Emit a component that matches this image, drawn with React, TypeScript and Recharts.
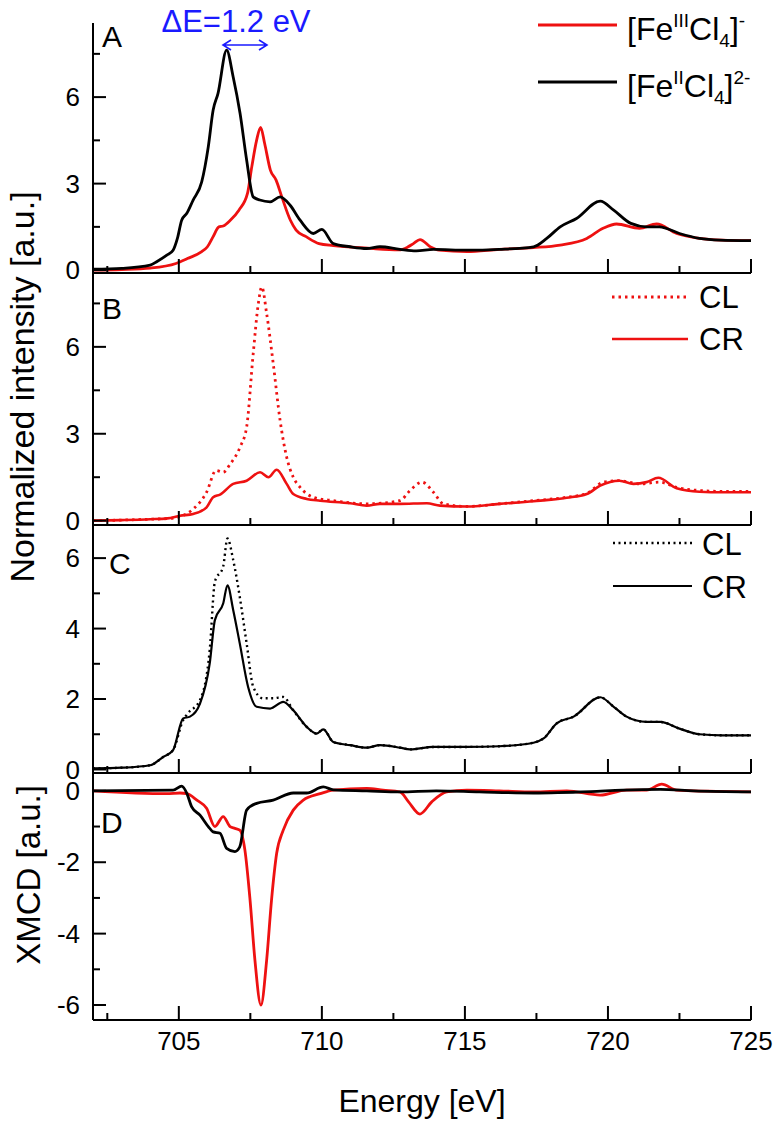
import React from "react";
import { LineChart, Line, XAxis, YAxis } from "recharts";

// energies (eV) and normalized intensities
const aFe3E = [702, 703, 704, 704.9, 705.3, 705.8, 706.0, 706.2, 706.4, 706.55, 706.8, 707.1, 707.4, 707.55, 707.72, 707.86, 708.0, 708.2, 708.4, 708.6, 708.9, 709.1, 709.45, 709.9, 710.4, 711.6, 712.7, 713.0, 713.2, 713.43, 713.8, 714.1, 715.07, 716.2, 717.4, 718.33, 719.26, 719.83, 720.3, 721.1, 721.7, 722.4, 723.2, 724, 725];
const aFe3V = [0.0, 0.02, 0.07, 0.23, 0.4, 0.64, 0.81, 1.16, 1.5, 1.53, 1.73, 2.08, 2.66, 3.58, 4.51, 4.95, 4.39, 3.47, 3.12, 2.54, 1.73, 1.39, 1.16, 0.92, 0.85, 0.76, 0.7, 0.8, 0.92, 1.06, 0.8, 0.69, 0.64, 0.72, 0.78, 0.87, 1.1, 1.45, 1.6, 1.45, 1.6, 1.27, 1.1, 1.04, 1.02];

const aFe2E = [702, 703, 704, 704.24, 704.58, 704.8, 704.95, 705.1, 705.28, 705.5, 705.8, 706.03, 706.2, 706.37, 706.67, 706.9, 707.14, 707.37, 707.6, 707.83, 708.19, 708.54, 708.89, 709.24, 709.7, 710.0, 710.4, 710.99, 711.57, 712.03, 712.73, 713.3, 713.9, 715.07, 716.2, 717.4, 717.86, 718.33, 718.9, 719.73, 720.2, 720.8, 721.35, 721.8, 722.5, 723.2, 723.9, 725];
const aFe2V = [0.03, 0.06, 0.17, 0.3, 0.52, 0.69, 1.1, 1.73, 1.97, 2.43, 3.06, 4.28, 5.55, 6.13, 7.63, 6.7, 5.44, 3.82, 2.54, 2.43, 2.37, 2.54, 2.25, 1.73, 1.27, 1.41, 0.92, 0.81, 0.75, 0.81, 0.72, 0.67, 0.72, 0.69, 0.72, 0.81, 1.1, 1.5, 1.79, 2.39, 2.08, 1.62, 1.5, 1.5, 1.27, 1.1, 1.04, 1.02];

const bClE = [702, 703, 704, 704.58, 705.04, 705.5, 705.97, 706.3, 706.55, 706.8, 707.14, 707.37, 707.6, 707.78, 707.9, 708.07, 708.3, 708.54, 708.77, 709.0, 709.24, 709.7, 710.4, 711.57, 712.73, 713.08, 713.5, 713.9, 714.25, 715.07, 716.2, 717.4, 718.56, 719.26, 719.84, 720.4, 721.1, 721.8, 722.4, 723.2, 724, 725];
const bClV = [0.0, 0.02, 0.05, 0.07, 0.14, 0.4, 0.98, 1.73, 1.67, 1.96, 2.54, 3.23, 5.77, 7.5, 8.07, 7.15, 5.42, 3.46, 2.19, 1.5, 1.15, 0.81, 0.69, 0.58, 0.69, 1.04, 1.33, 0.98, 0.58, 0.49, 0.58, 0.69, 0.81, 0.94, 1.33, 1.38, 1.27, 1.33, 1.15, 1.04, 1.01, 1.01];

const bCrE = [702, 703, 704, 704.6, 705.04, 705.5, 705.97, 706.2, 706.44, 706.9, 707.37, 707.84, 708.13, 708.42, 708.77, 709.0, 709.47, 709.94, 710.99, 711.57, 712.03, 712.73, 713.67, 714.13, 715.07, 716.2, 717.4, 718.56, 719.26, 719.73, 720.4, 720.89, 721.35, 721.76, 722.4, 723.2, 724, 725];
const bCrV = [0.0, 0.02, 0.05, 0.08, 0.17, 0.23, 0.46, 0.81, 0.9, 1.27, 1.38, 1.67, 1.5, 1.76, 1.27, 0.92, 0.75, 0.69, 0.6, 0.52, 0.58, 0.58, 0.6, 0.52, 0.49, 0.58, 0.67, 0.79, 0.92, 1.21, 1.38, 1.27, 1.33, 1.48, 1.12, 1.0, 0.98, 0.98];

const cClE = [702, 703, 704, 704.46, 704.8, 705.15, 705.3, 705.74, 706.08, 706.26, 706.55, 706.7, 706.9, 707.13, 707.37, 707.6, 707.94, 708.3, 708.65, 709.0, 709.47, 709.82, 710.05, 710.4, 710.99, 711.57, 712.03, 712.73, 713.08, 713.9, 715.07, 716.2, 717.4, 717.75, 718.21, 718.8, 719.73, 720.2, 720.65, 721.35, 721.83, 722.5, 723.2, 724, 725];
const cClV = [0.03, 0.05, 0.12, 0.36, 0.55, 1.4, 1.58, 1.97, 3.39, 5.33, 5.76, 6.56, 5.95, 4.9, 3.58, 2.35, 2.02, 2.02, 2.06, 1.68, 1.21, 1.02, 1.14, 0.78, 0.69, 0.62, 0.69, 0.62, 0.57, 0.64, 0.64, 0.66, 0.76, 0.88, 1.31, 1.5, 2.05, 1.78, 1.5, 1.35, 1.35, 1.16, 1.0, 0.97, 0.97];

const cCrE = [702, 703, 704, 704.46, 704.8, 705.15, 705.39, 705.74, 706.08, 706.26, 706.55, 706.7, 706.9, 707.13, 707.42, 707.72, 708.19, 708.65, 709.0, 709.47, 709.82, 710.05, 710.4, 710.99, 711.57, 712.03, 712.73, 713.08, 713.9, 715.07, 716.2, 717.4, 717.75, 718.21, 718.8, 719.73, 720.2, 720.65, 721.35, 721.83, 722.5, 723.2, 724, 725];
const cCrV = [0.03, 0.05, 0.12, 0.36, 0.55, 1.45, 1.5, 1.87, 3.01, 4.24, 4.71, 5.23, 4.53, 3.58, 2.35, 1.78, 1.73, 1.92, 1.68, 1.21, 1.02, 1.14, 0.78, 0.69, 0.62, 0.69, 0.62, 0.57, 0.64, 0.64, 0.66, 0.76, 0.88, 1.31, 1.5, 2.05, 1.78, 1.5, 1.35, 1.35, 1.16, 1.0, 0.97, 0.97];

// XMCD difference spectra
const dFe3E = [702, 704.58, 705.04, 705.28, 705.63, 705.97, 706.26, 706.55, 706.79, 706.96, 707.13, 707.31, 707.49, 707.66, 707.87, 708.07, 708.24, 708.42, 708.65, 709.0, 709.35, 709.94, 710.4, 711.57, 712.14, 712.73, 713.03, 713.43, 713.84, 714.36, 715.07, 716.2, 717.4, 718.56, 719.73, 720.65, 721.35, 721.88, 722.4, 723.5, 725];
const dFe3V = [0.0, -0.08, -0.06, -0.08, -0.26, -0.49, -1.0, -0.72, -1.0, -1.05, -1.1, -1.66, -3.06, -4.74, -6.0, -4.74, -3.06, -1.75, -1.1, -0.54, -0.26, -0.08, 0.02, 0.07, 0.02, -0.03, -0.31, -0.65, -0.31, -0.03, 0.02, 0.0, -0.03, 0.0, -0.12, 0.02, 0.02, 0.19, 0.02, -0.01, -0.03];

const dFe2E = [702, 704.8, 705.1, 705.28, 705.45, 705.74, 706.03, 706.2, 706.44, 706.67, 706.96, 707.13, 707.37, 707.72, 708.3, 709.0, 709.47, 710.05, 710.4, 711.57, 712.73, 714, 715.5, 717.4, 719.4, 720.5, 721.83, 723, 725];
const dFe2V = [0.0, 0.02, 0.13, -0.07, -0.45, -0.68, -1.0, -1.15, -1.19, -1.61, -1.7, -1.57, -0.54, -0.35, -0.26, -0.06, -0.06, 0.11, 0.03, 0.0, -0.03, 0.0, -0.03, -0.06, -0.02, 0.02, 0.04, 0.0, -0.03];

const xTicks = [702.5, 705, 707.5, 710, 712.5, 715, 717.5, 720, 722.5, 725];
const xLabeled = [705, 710, 715, 720, 725];

const RED = "#ee1111";
const FONT = "'Liberation Sans', Arial, sans-serif";

const toPts = (es: number[], vs: number[]) => es.map((e, i) => ({ e, v: vs[i] }));

const XTick = (props: any) => {
  const { x, y, payload, showLabels } = props;
  const major = xLabeled.includes(payload.value);
  return (
    <g>
      <line x1={x} x2={x} y1={y} y2={y - (major ? 14 : 7)} stroke="#000" strokeWidth={2} />
      {showLabels && major && (
        <text x={x} y={y + 30} textAnchor="middle" fontSize={26} fill="#000" fontFamily={FONT}>
          {payload.value}
        </text>
      )}
    </g>
  );
};

const YTick = (props: any) => {
  const { x, y, payload, labeled } = props;
  const major = labeled.includes(payload.value);
  return (
    <g>
      <line x1={x} x2={x + (major ? 13 : 7)} y1={y} y2={y} stroke="#000" strokeWidth={2} />
      {major && (
        <text x={x - 13} y={y} dy="0.35em" textAnchor="end" fontSize={26} fill="#000" fontFamily={FONT}>
          {payload.value}
        </text>
      )}
    </g>
  );
};

interface Series {
  pts: { e: number; v: number }[];
  color: string;
  width: number;
  dash?: string;
}

interface PanelProps {
  top: number;
  bottom: number;
  domain: [number, number];
  yTicks: number[];
  yLabeled: number[];
  series: Series[];
  showLabels?: boolean;
}

function Panel({ top, bottom, domain, yTicks, yLabeled, series, showLabels = false }: PanelProps) {
  // extra room below the plot so the "0" tick label is not clipped
  const xh = showLabels ? 60 : 20;
  const h = bottom - top + xh;
  return (
    <div style={{ position: "absolute", left: 0, top, width: 776, height: h }}>
      <LineChart width={776} height={h} margin={{ top: 0, right: 25, left: 33, bottom: 0 }}>
        <XAxis
          dataKey="e"
          type="number"
          domain={[702, 725]}
          allowDataOverflow
          ticks={xTicks}
          interval={0}
          height={xh}
          tickSize={0}
          tickMargin={0}
          tickLine={false}
          axisLine={{ stroke: "#000", strokeWidth: 2 }}
          tick={(p: any) => <XTick {...p} showLabels={showLabels} />}
        />
        <YAxis
          type="number"
          domain={domain}
          allowDataOverflow
          ticks={yTicks}
          interval={0}
          width={60}
          tickSize={0}
          tickMargin={0}
          tickLine={false}
          axisLine={{ stroke: "#000", strokeWidth: 2 }}
          tick={(p: any) => <YTick {...p} labeled={yLabeled} />}
        />
        {series.map((s, i) => (
          <Line
            key={i}
            data={s.pts}
            dataKey="v"
            type="monotone"
            stroke={s.color}
            strokeWidth={s.width}
            strokeDasharray={s.dash}
            dot={false}
            activeDot={false}
            isAnimationActive={false}
          />
        ))}
      </LineChart>
    </div>
  );
}

export default function App() {
  return (
    <div
      style={{
        position: "absolute",
        left: 0,
        top: 0,
        width: 776,
        height: 1124,
        background: "#fff",
        fontFamily: FONT,
      }}
    >
      <Panel
        top={23}
        bottom={273}
        domain={[-0.1, 8.57]}
        yTicks={[0, 1.5, 3, 4.5, 6, 7.5]}
        yLabeled={[0, 3, 6]}
        series={[
          { pts: toPts(aFe3E, aFe3V), color: RED, width: 2.8 },
          { pts: toPts(aFe2E, aFe2V), color: "#000", width: 2.8 },
        ]}
      />
      <Panel
        top={273}
        bottom={525}
        domain={[-0.15, 8.55]}
        yTicks={[0, 1.5, 3, 4.5, 6, 7.5]}
        yLabeled={[0, 3, 6]}
        series={[
          { pts: toPts(bClE, bClV), color: RED, width: 2.8, dash: "2.5 4" },
          { pts: toPts(bCrE, bCrV), color: RED, width: 2.6 },
        ]}
      />
      <Panel
        top={525}
        bottom={773}
        domain={[-0.1, 6.94]}
        yTicks={[0, 1, 2, 3, 4, 5, 6]}
        yLabeled={[0, 2, 4, 6]}
        series={[
          { pts: toPts(cClE, cClV), color: "#000", width: 2.4, dash: "2 3.5" },
          { pts: toPts(cCrE, cCrV), color: "#000", width: 2.2 },
        ]}
      />
      <Panel
        top={773}
        bottom={1020}
        domain={[-6.42, 0.5]}
        yTicks={[-6, -5, -4, -3, -2, -1, 0]}
        yLabeled={[-6, -4, -2, 0]}
        showLabels
        series={[
          { pts: toPts(dFe3E, dFe3V), color: RED, width: 2.8 },
          { pts: toPts(dFe2E, dFe2V), color: "#000", width: 2.8 },
        ]}
      />

      <svg
        width={776}
        height={1124}
        style={{ position: "absolute", left: 0, top: 0, pointerEvents: "none" }}
        fontFamily={FONT}
      >
        {/* axis titles */}
        <text x={34} y={387} transform="rotate(-90 34 387)" textAnchor="middle" fontSize={34} fill="#000">
          Normalized intensity [a.u.]
        </text>
        <text x={40} y={875} transform="rotate(-90 40 875)" textAnchor="middle" fontSize={33} fill="#000">
          XMCD [a.u.]
        </text>
        <text x={422} y={1112} textAnchor="middle" fontSize={32} fill="#000">
          Energy [eV]
        </text>

        {/* panel letters */}
        <text x={102} y={47} fontSize={30}>A</text>
        <text x={102} y={319} fontSize={30}>B</text>
        <text x={109} y={574} fontSize={30}>C</text>
        <text x={101} y={833} fontSize={30}>D</text>

        {/* ΔE annotation */}
        <text x={236} y={32} textAnchor="middle" fontSize={31} fill="#1a1aff">
          ΔE=1.2 eV
        </text>
        <path
          d="M223,45 L267,45 M231,40 L223,45 L231,50 M259,40 L267,45 L259,50"
          stroke="#1a1aff"
          strokeWidth={1.6}
          fill="none"
        />

        {/* legend A */}
        <line x1={538} x2={617} y1={25} y2={25} stroke={RED} strokeWidth={3} />
        <text x={627} y={40} fontSize={32}>
          [Fe<tspan fontSize={19} dy={-13}>III</tspan>
          <tspan dy={13}>Cl</tspan>
          <tspan fontSize={19} dy={7}>4</tspan>
          <tspan dy={-7}>]</tspan>
          <tspan fontSize={19} dy={-13}>-</tspan>
        </text>
        <line x1={538} x2={617} y1={82} y2={82} stroke="#000" strokeWidth={3} />
        <text x={627} y={97} fontSize={32}>
          [Fe<tspan fontSize={19} dy={-13}>II</tspan>
          <tspan dy={13}>Cl</tspan>
          <tspan fontSize={19} dy={7}>4</tspan>
          <tspan dy={-7}>]</tspan>
          <tspan fontSize={19} dy={-13}>2-</tspan>
        </text>

        {/* legend B */}
        <line x1={612} x2={688} y1={297} y2={297} stroke={RED} strokeWidth={2.8} strokeDasharray="2.5 4" />
        <text x={699} y={308} fontSize={31}>CL</text>
        <line x1={612} x2={688} y1={339} y2={339} stroke={RED} strokeWidth={2.6} />
        <text x={699} y={350} fontSize={31}>CR</text>

        {/* legend C */}
        <line x1={613} x2={692} y1={543} y2={543} stroke="#000" strokeWidth={2.4} strokeDasharray="2 3.5" />
        <text x={702} y={555} fontSize={31}>CL</text>
        <line x1={613} x2={692} y1={586} y2={586} stroke="#000" strokeWidth={2.2} />
        <text x={702} y={598} fontSize={31}>CR</text>
      </svg>
    </div>
  );
}
